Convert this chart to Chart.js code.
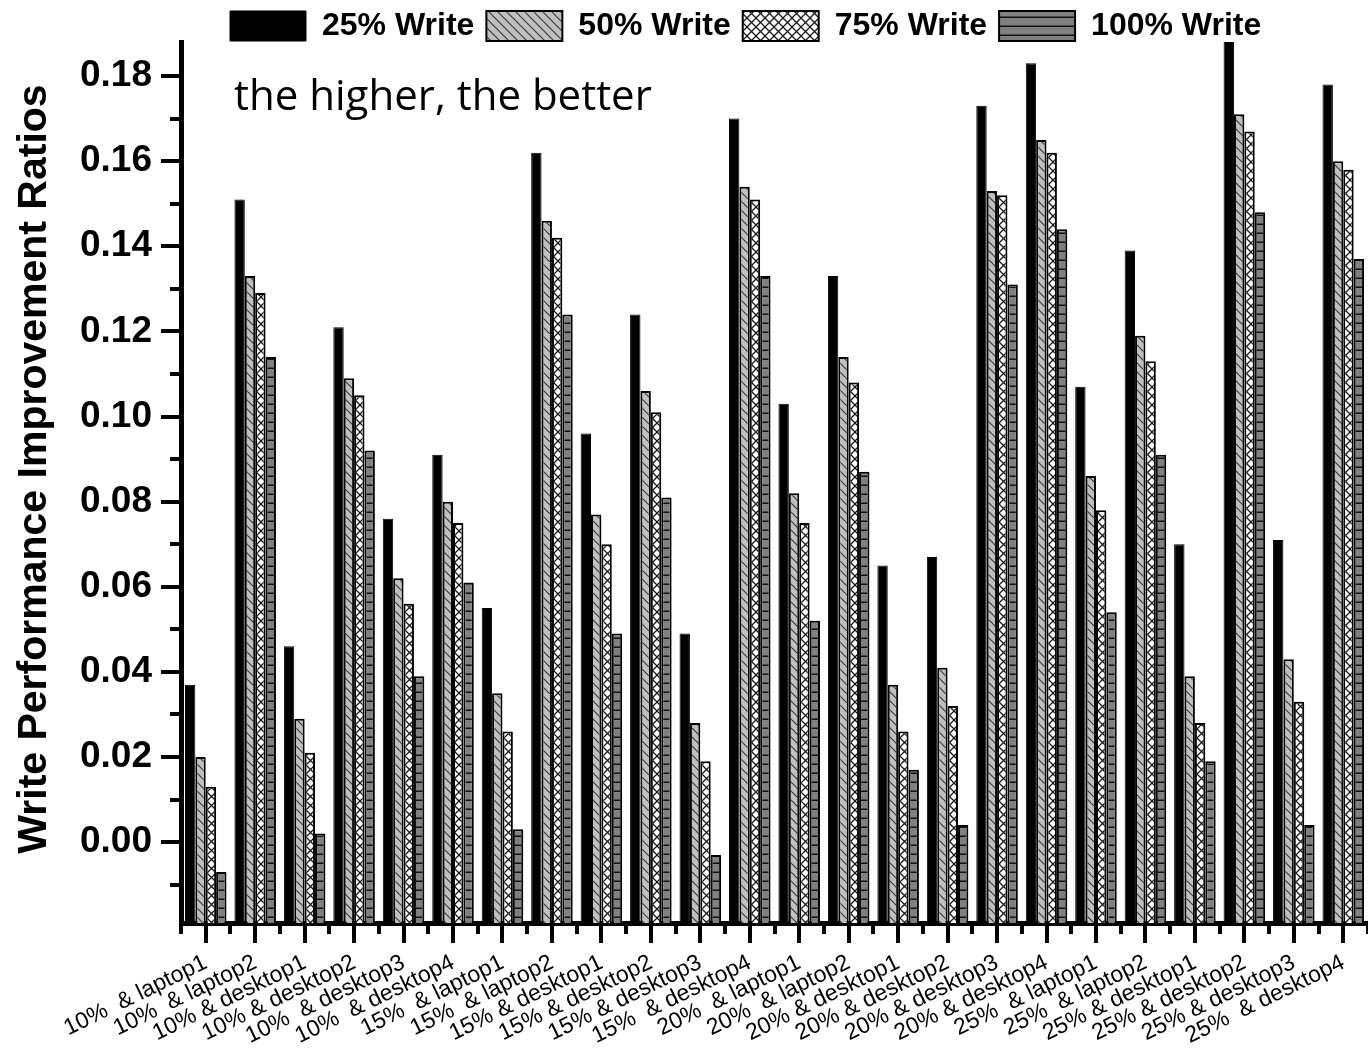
<!DOCTYPE html>
<html>
<head>
<meta charset="utf-8">
<title>Write Performance Improvement Ratios</title>
<script src="https://cdn.jsdelivr.net/npm/chart.js@4.4.1/dist/chart.umd.min.js"></script>
<style>
  html, body { margin: 0; padding: 0; background: #fff; overflow: hidden; }
  #wrap { width: 1368px; height: 1058px; }
</style>
</head>
<body>
<div id="wrap"><canvas id="chart" width="1368" height="1058"></canvas></div>
<script>
// Cache size & trace combinations
const categories = [
  '10%  & laptop1', '10%  & laptop2', '10% & desktop1', '10% & desktop2', '10%  & desktop3', '10%  & desktop4',
  '15%  & laptop1', '15%  & laptop2', '15% & desktop1', '15% & desktop2', '15% & desktop3', '15%  & desktop4',
  '20%  & laptop1', '20%  & laptop2', '20% & desktop1', '20% & desktop2', '20% & desktop3', '20% & desktop4',
  '25%  & laptop1', '25%  & laptop2', '25% & desktop1', '25% & desktop2', '25% & desktop3', '25%  & desktop4'
];

const seriesNames = ['25% Write', '50% Write', '75% Write', '100% Write'];

const write25  = [0.037, 0.151, 0.046, 0.121, 0.076, 0.091, 0.055, 0.162, 0.096, 0.124, 0.049, 0.170,
                  0.103, 0.133, 0.065, 0.067, 0.173, 0.183, 0.107, 0.139, 0.070, 0.188, 0.071, 0.178];
const write50  = [0.020, 0.133, 0.029, 0.109, 0.062, 0.080, 0.035, 0.146, 0.077, 0.106, 0.028, 0.154,
                  0.082, 0.114, 0.037, 0.041, 0.153, 0.165, 0.086, 0.119, 0.039, 0.171, 0.043, 0.160];
const write75  = [0.013, 0.129, 0.021, 0.105, 0.056, 0.075, 0.026, 0.142, 0.070, 0.101, 0.019, 0.151,
                  0.075, 0.108, 0.026, 0.032, 0.152, 0.162, 0.078, 0.113, 0.028, 0.167, 0.033, 0.158];
const write100 = [-0.007, 0.114, 0.002, 0.092, 0.039, 0.061, 0.003, 0.124, 0.049, 0.081, -0.003, 0.133,
                  0.052, 0.087, 0.017, 0.004, 0.131, 0.144, 0.054, 0.091, 0.019, 0.148, 0.004, 0.137];

const yTickStep = 0.02;
const yMin = -0.019;
const yMax = 0.188;
const yTitle = 'Write Performance Improvement Ratios';

const FONT = "'Liberation Sans', Arial, Helvetica, sans-serif";

// Fill patterns for the bars
function makePattern(size, paint) {
  const c = document.createElement('canvas');
  c.width = size; c.height = size;
  const g = c.getContext('2d');
  paint(g, size);
  return g.createPattern(c, 'repeat');
}
const solidBlack = '#000000';
const diagonalHatch = makePattern(9, (g, s) => {
  g.fillStyle = '#c0c0c0';
  g.fillRect(0, 0, s, s);
  g.strokeStyle = '#3c3c3c';
  g.lineWidth = 1.2;
  g.beginPath();
  g.moveTo(-1, -1); g.lineTo(s + 1, s + 1);
  g.moveTo(-1, s - 1); g.lineTo(1, s + 1);
  g.moveTo(s - 1, -1); g.lineTo(s + 1, 1);
  g.stroke();
});
const crossHatch = makePattern(9, (g, s) => {
  g.fillStyle = '#ffffff';
  g.fillRect(0, 0, s, s);
  g.strokeStyle = '#1a1a1a';
  g.lineWidth = 1.3;
  g.beginPath();
  g.moveTo(-1, -1); g.lineTo(s + 1, s + 1);
  g.moveTo(s + 1, -1); g.lineTo(-1, s + 1);
  g.stroke();
});
const horizontalLines = makePattern(9, (g, s) => {
  g.fillStyle = '#808080';
  g.fillRect(0, 0, s, s);
  g.fillStyle = '#111111';
  g.fillRect(0, s - 1.5, s, 1.5);
});

// Tick marks: long/short on the value axis, centre/boundary on the category axis
const tickMarks = {
  id: 'tickMarks',
  afterDraw(chart) {
    const { ctx, chartArea, scales: { x, y } } = chart;
    ctx.save();
    ctx.strokeStyle = '#000';
    ctx.lineCap = 'butt';
    ctx.lineWidth = 4;
    for (let k = Math.ceil(yMin * 100); k <= Math.floor(yMax * 100); k++) {
      const py = Math.round(y.getPixelForValue(k / 100));
      const len = (k % 2 === 0) ? 20 : 11;
      ctx.beginPath();
      ctx.moveTo(chartArea.left, py);
      ctx.lineTo(chartArea.left - len, py);
      ctx.stroke();
    }
    const step = x.getPixelForValue(1) - x.getPixelForValue(0);
    for (let i = 0; i < categories.length; i++) {
      const cx = Math.round(x.getPixelForValue(i));
      ctx.beginPath();
      ctx.moveTo(cx, chartArea.bottom);
      ctx.lineTo(cx, chartArea.bottom + 20);
      ctx.stroke();
    }
    for (let i = 0; i <= categories.length; i++) {
      const bx = Math.round(x.getPixelForValue(0) - step / 2 + i * step);
      ctx.beginPath();
      ctx.moveTo(bx, chartArea.bottom);
      ctx.lineTo(bx, chartArea.bottom + 11);
      ctx.stroke();
    }
    ctx.restore();
  }
};

// Axis title and the note in the upper left of the plot
const chartTexts = {
  id: 'chartTexts',
  afterDraw(chart) {
    const { ctx } = chart;
    ctx.save();
    ctx.fillStyle = '#000';
    ctx.font = "42px 'Open Sans', Lato, sans-serif";
    ctx.textAlign = 'left';
    ctx.textBaseline = 'alphabetic';
    ctx.fillText('the higher, the better', 234, 110);

    ctx.translate(35, 469);
    ctx.rotate(-Math.PI / 2);
    ctx.font = 'bold 41px ' + FONT;
    ctx.textAlign = 'center';
    ctx.textBaseline = 'middle';
    ctx.fillText(yTitle, 0, 0);
    ctx.restore();
  }
};

// Legend sizing and placement
const legendPlacement = {
  id: 'legendPlacement',
  beforeInit(chart) {
    const legend = chart.legend;
    if (legend) {
      const fit = legend.fit;
      legend.fit = function () {
        fit.call(this);
        this.height = 42;
      };
    }
  },
  afterLayout(chart) {
    const legend = chart.legend;
    if (legend) {
      legend.left = 230 - legend.options.labels.padding;
      legend.top = -2;
      legend.bottom = 60;
      legend.height = 62;
    }
  }
};

new Chart(document.getElementById('chart'), {
  type: 'bar',
  data: {
    labels: categories,
    datasets: [
      { label: seriesNames[0], data: write25,  backgroundColor: solidBlack,      borderColor: '#000', borderWidth: 1 },
      { label: seriesNames[1], data: write50,  backgroundColor: diagonalHatch,   borderColor: '#000', borderWidth: 2 },
      { label: seriesNames[2], data: write75,  backgroundColor: crossHatch,      borderColor: '#000', borderWidth: 2 },
      { label: seriesNames[3], data: write100, backgroundColor: horizontalLines, borderColor: '#000', borderWidth: 2 }
    ]
  },
  options: {
    responsive: false,
    animation: false,
    devicePixelRatio: 1,
    layout: { padding: { left: 0, right: 0, top: 0, bottom: 0 } },
    datasets: {
      bar: {
        base: yMin,
        barPercentage: 1.0,
        categoryPercentage: 0.84,
        borderSkipped: 'start'
      }
    },
    plugins: {
      legend: {
        display: true,
        position: 'top',
        align: 'start',
        labels: {
          boxWidth: 76,
          boxHeight: 30,
          padding: 12,
          color: '#000',
          font: { family: FONT, size: 32, weight: 'bold' }
        }
      },
      tooltip: { enabled: false },
      title: { display: false }
    },
    scales: {
      x: {
        type: 'category',
        offset: true,
        border: { display: true, color: '#000', width: 5 },
        grid: { display: true, drawOnChartArea: false, drawTicks: true, tickLength: 20, tickColor: 'rgba(0,0,0,0)', offset: false },
        ticks: {
          autoSkip: false,
          minRotation: 26,
          maxRotation: 26,
          padding: 6,
          color: '#000',
          font: { family: FONT, size: 23 }
        },
        afterFit(scale) { scale.height = 135; }
      },
      y: {
        type: 'linear',
        min: yMin,
        max: yMax,
        border: { display: true, color: '#000', width: 5 },
        grid: { display: true, drawOnChartArea: false, drawTicks: true, tickLength: 19, tickColor: 'rgba(0,0,0,0)' },
        ticks: {
          stepSize: yTickStep,
          includeBounds: false,
          maxTicksLimit: 30,
          padding: 10,
          color: '#000',
          font: { family: FONT, size: 37, weight: 'bold' },
          callback: (v) => Number(v).toFixed(2)
        },
        title: { display: false },
        afterFit(scale) { scale.width = 181; }
      }
    }
  },
  plugins: [legendPlacement, tickMarks, chartTexts]
});
</script>
</body>
</html>
